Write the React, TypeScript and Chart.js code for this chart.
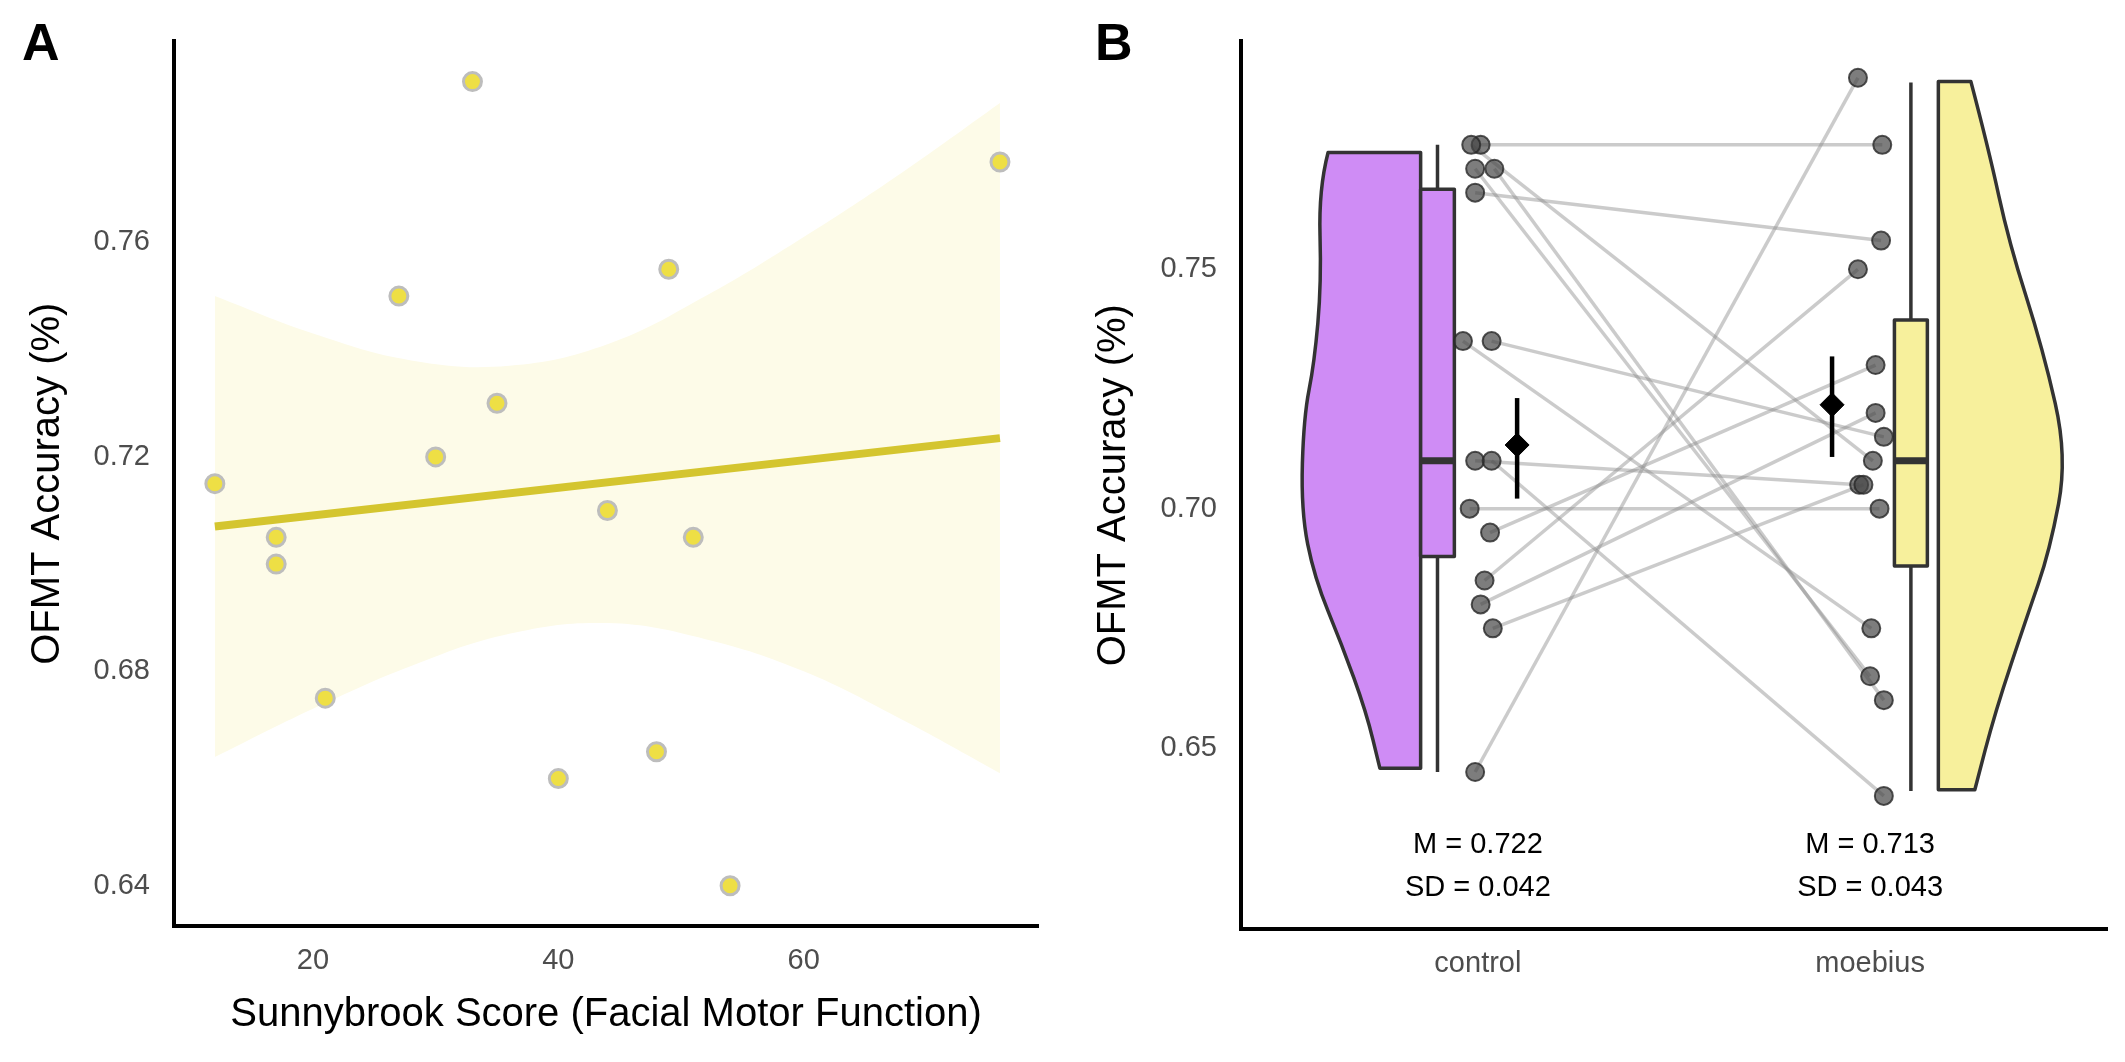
import { useEffect, useRef } from "react";
import { Chart, registerables } from "chart.js";

Chart.register(...registerables);

// Panel A: Sunnybrook score vs OFMT accuracy
const sunnyX = [12, 17, 17, 21, 27, 30, 33, 35, 40, 44, 48, 49, 51, 54, 76];
const sunnyY = [0.715, 0.705, 0.7, 0.675, 0.75, 0.72, 0.79, 0.73, 0.66, 0.71, 0.665, 0.755, 0.705, 0.64, 0.775];
const fitX = [12, 76];
const fitY = [0.707, 0.7235];
const bandX = [12, 20, 28, 36, 44, 52, 60, 68, 76];
const bandUpper = [0.75, 0.743, 0.738, 0.737, 0.741, 0.75, 0.761, 0.773, 0.786];
const bandLower = [0.664, 0.673, 0.681, 0.687, 0.689, 0.686, 0.68, 0.671, 0.661];
const ticksA_X = [20, 40, 60];
const ticksA_Y = [0.64, 0.68, 0.72, 0.76];

// Panel B: paired control / moebius
const groups = ["control", "moebius"];
const controlAcc = [0.776, 0.776, 0.771, 0.771, 0.766, 0.735, 0.735, 0.71, 0.71, 0.7, 0.695, 0.685, 0.68, 0.675, 0.645];
const moebiusAcc = [0.776, 0.71, 0.665, 0.66, 0.756, 0.675, 0.715, 0.705, 0.64, 0.7, 0.73, 0.75, 0.72, 0.705, 0.79];
const controlJitter = [1.007, 0.983, 0.993, 1.042, 0.993, 0.962, 1.035, 0.993, 1.035, 0.979, 1.031, 1.017, 1.007, 1.038, 0.993];
const moebiusJitter = [2.031, 2.007, 2.0, 2.035, 2.028, 2.003, 2.035, 1.972, 2.035, 2.024, 2.014, 1.969, 2.014, 1.983, 1.969];
const means = [0.7133, 0.7217];
const meanLo = [0.7021, 0.7108];
const meanHi = [0.7231, 0.7318];
const meanX = [1.1, 1.903];
// box stats: [whiskerLo, q1, median, q3, whiskerHi]
const boxControl = [0.645, 0.69, 0.71, 0.7667, 0.776];
const boxMoebius = [0.641, 0.688, 0.71, 0.7394, 0.789];
const ctrlViolinY = [0.7744, 0.7668, 0.7472, 0.7304, 0.7192, 0.6996, 0.6856, 0.6716, 0.6576, 0.6458];
const ctrlViolinX = [0.618, 0.594, 0.601, 0.583, 0.556, 0.549, 0.583, 0.653, 0.715, 0.75];
const moebViolinY = [0.7892, 0.7752, 0.7556, 0.7332, 0.7108, 0.6912, 0.6772, 0.6576, 0.6413];
const moebViolinX = [2.257, 2.302, 2.354, 2.441, 2.503, 2.458, 2.399, 2.319, 2.267];
const statLabels = [["M = 0.722", "SD = 0.042"], ["M = 0.713", "SD = 0.043"]];
const ticksB_Y = [0.65, 0.7, 0.75];

const FONT = "'Liberation Sans', Arial, sans-serif";
const TICK = { color: "#4d4d4d", font: { family: FONT, size: 29 } };

function axisTitle(text: string, padding: number) {
  return { display: true, text, color: "#000", font: { family: FONT, size: 40 }, padding };
}

function baseScales(xMin: number, xMax: number, yMin: number, yMax: number, xTicks: number[], yTicks: number[], xH: number, yW: number) {
  return {
    x: {
      type: "linear" as const, min: xMin, max: xMax,
      grid: { display: false, drawTicks: false },
      border: { display: true, color: "#000", width: 4 },
      ticks: { ...TICK, padding: 18 },
      afterBuildTicks: (s: any) => { s.ticks = xTicks.map((v) => ({ value: v })); },
      afterFit: (s: any) => { s.height = xH; },
    },
    y: {
      type: "linear" as const, min: yMin, max: yMax,
      grid: { display: false, drawTicks: false },
      border: { display: true, color: "#000", width: 4 },
      ticks: { ...TICK, padding: 24 },
      afterBuildTicks: (s: any) => { s.ticks = yTicks.map((v) => ({ value: v })); },
      afterFit: (s: any) => { s.width = yW; },
    },
  };
}

function PanelA() {
  const ref = useRef<HTMLCanvasElement>(null);
  useEffect(() => {
    if (!ref.current) return;
    const scales: any = baseScales(8.67, 79.1, 0.6325, 0.7975, ticksA_X, ticksA_Y, 136, 174);
    scales.x.title = axisTitle("Sunnybrook Score (Facial Motor Function)", 23);
    scales.y.title = axisTitle("OFMT Accuracy (%)", 24);
    scales.y.ticks.callback = (v: number) => v.toFixed(2);
    const chart = new Chart(ref.current, {
      type: "scatter",
      data: {
        datasets: [
          { data: bandX.map((x, i) => ({ x, y: bandUpper[i] })), showLine: true, borderWidth: 0, pointRadius: 0, backgroundColor: "#fdfbe8", fill: "+1", tension: 0.4, order: 3 },
          { data: bandX.map((x, i) => ({ x, y: bandLower[i] })), showLine: true, borderWidth: 0, pointRadius: 0, tension: 0.4, order: 3 },
          { data: fitX.map((x, i) => ({ x, y: fitY[i] })), showLine: true, borderColor: "#d4c52f", borderWidth: 8, pointRadius: 0, order: 2 },
          { data: sunnyX.map((x, i) => ({ x, y: sunnyY[i] })), backgroundColor: "#eedf45", borderColor: "#bdbdbd", borderWidth: 3, pointRadius: 9, order: 1 },
        ],
      },
      options: {
        animation: false, responsive: false, maintainAspectRatio: false,
        layout: { padding: { top: 27, right: 24, left: 0, bottom: 0 } },
        plugins: { legend: { display: false }, tooltip: { enabled: false } },
        scales,
      },
    });
    return () => chart.destroy();
  }, []);
  return <canvas ref={ref} width={1062} height={1062} style={{ position: "absolute", left: 0, top: 0, width: 1062, height: 1062 }} />;
}

function smoothPath(ctx: CanvasRenderingContext2D, pts: [number, number][]) {
  ctx.lineTo(pts[0][0], pts[0][1]);
  for (let i = 1; i < pts.length - 1; i++) {
    const mx = (pts[i][0] + pts[i + 1][0]) / 2;
    const my = (pts[i][1] + pts[i + 1][1]) / 2;
    ctx.quadraticCurveTo(pts[i][0], pts[i][1], mx, my);
  }
  const last = pts[pts.length - 1];
  ctx.lineTo(last[0], last[1]);
}

const shapesPlugin = {
  id: "shapes",
  beforeDatasetsDraw(chart: any) {
    const { ctx, scales: { x, y } } = chart;
    const px = (v: number) => x.getPixelForValue(v);
    const py = (v: number) => y.getPixelForValue(v);
    ctx.save();
    ctx.lineWidth = 3.5;
    ctx.strokeStyle = "#333";
    ctx.lineJoin = "round";
    const violin = (xs: number[], ys: number[], edge: number, color: string) => {
      ctx.beginPath();
      ctx.moveTo(px(edge), py(ys[0]));
      smoothPath(ctx, xs.map((v, i) => [px(v), py(ys[i])] as [number, number]));
      ctx.lineTo(px(edge), py(ys[ys.length - 1]));
      ctx.closePath();
      ctx.fillStyle = color;
      ctx.fill();
      ctx.stroke();
    };
    violin(ctrlViolinX, ctrlViolinY, 0.854, "#cf8cf5");
    violin(moebViolinX, moebViolinY, 2.174, "#f7f09c");
    const box = (b: number[], x0: number, x1: number, color: string) => {
      const xc = px((x0 + x1) / 2);
      ctx.lineWidth = 3.5;
      ctx.beginPath();
      ctx.moveTo(xc, py(b[0])); ctx.lineTo(xc, py(b[4]));
      ctx.stroke();
      ctx.fillStyle = color;
      ctx.fillRect(px(x0), py(b[3]), px(x1) - px(x0), py(b[1]) - py(b[3]));
      ctx.strokeRect(px(x0), py(b[3]), px(x1) - px(x0), py(b[1]) - py(b[3]));
      ctx.lineWidth = 7;
      ctx.beginPath();
      ctx.moveTo(px(x0), py(b[2])); ctx.lineTo(px(x1), py(b[2]));
      ctx.stroke();
    };
    box(boxControl, 0.854, 0.94, "#cf8cf5");
    box(boxMoebius, 2.062, 2.146, "#f7f09c");
    ctx.restore();
  },
  afterDatasetsDraw(chart: any) {
    const { ctx, scales: { x, y } } = chart;
    ctx.save();
    ctx.strokeStyle = "#000";
    ctx.lineWidth = 4.5;
    meanX.forEach((mx, i) => {
      ctx.beginPath();
      ctx.moveTo(x.getPixelForValue(mx), y.getPixelForValue(meanLo[i]));
      ctx.lineTo(x.getPixelForValue(mx), y.getPixelForValue(meanHi[i]));
      ctx.stroke();
    });
    ctx.fillStyle = "#000";
    ctx.font = `29px ${FONT}`;
    ctx.textAlign = "center";
    ctx.textBaseline = "middle";
    statLabels.forEach((lines, i) => {
      ctx.fillText(lines[0], x.getPixelForValue(i + 1), y.getPixelForValue(0.6298));
      ctx.fillText(lines[1], x.getPixelForValue(i + 1), y.getPixelForValue(0.6208));
    });
    ctx.restore();
  },
};

function PanelB() {
  const ref = useRef<HTMLCanvasElement>(null);
  useEffect(() => {
    if (!ref.current) return;
    const scales: any = baseScales(0.396, 2.604, 0.6122, 0.7976, [1, 2], ticksB_Y, 133, 179);
    scales.x.ticks.callback = (v: number) => groups[v - 1];
    scales.y.title = axisTitle("OFMT Accuracy (%)", 28);
    scales.y.ticks.callback = (v: number) => v.toFixed(2);
    const pairLines = controlAcc.map((c, i) => ({
      data: [{ x: controlJitter[i], y: c }, { x: moebiusJitter[i], y: moebiusAcc[i] }],
      showLine: true, borderColor: "rgba(140,140,140,0.45)", borderWidth: 3.5, pointRadius: 0, order: 3,
    }));
    const chart = new Chart(ref.current, {
      type: "scatter",
      data: {
        datasets: [
          ...pairLines,
          { data: controlAcc.map((v, i) => ({ x: controlJitter[i], y: v })), backgroundColor: "rgba(70,70,70,0.7)", borderColor: "rgba(40,40,40,0.8)", borderWidth: 2, pointRadius: 9, order: 2 },
          { data: moebiusAcc.map((v, i) => ({ x: moebiusJitter[i], y: v })), backgroundColor: "rgba(70,70,70,0.7)", borderColor: "rgba(40,40,40,0.8)", borderWidth: 2, pointRadius: 9, order: 2 },
          { data: meanX.map((x, i) => ({ x, y: means[i] })), pointStyle: "rectRot", backgroundColor: "#000", borderColor: "#000", pointRadius: 12, order: 0 },
        ] as any,
      },
      options: {
        animation: false, responsive: false, maintainAspectRatio: false,
        layout: { padding: { top: 27, right: 18, left: 0, bottom: 0 } },
        plugins: { legend: { display: false }, tooltip: { enabled: false } },
        scales,
      },
      plugins: [shapesPlugin],
    });
    return () => chart.destroy();
  }, []);
  return <canvas ref={ref} width={1063} height={1062} style={{ position: "absolute", left: 1062, top: 0, width: 1063, height: 1062 }} />;
}

const letter = { position: "absolute" as const, top: 16, fontFamily: FONT, fontWeight: 700, fontSize: 52, color: "#000", lineHeight: 1 };

export default function App() {
  useEffect(() => { document.body.style.margin = "0"; }, []);
  return (
    <div style={{ position: "relative", width: 2125, height: 1062, background: "#fff", overflow: "hidden" }}>
      <PanelA />
      <PanelB />
      <div style={{ ...letter, left: 22 }}>A</div>
      <div style={{ ...letter, left: 1095 }}>B</div>
    </div>
  );
}
